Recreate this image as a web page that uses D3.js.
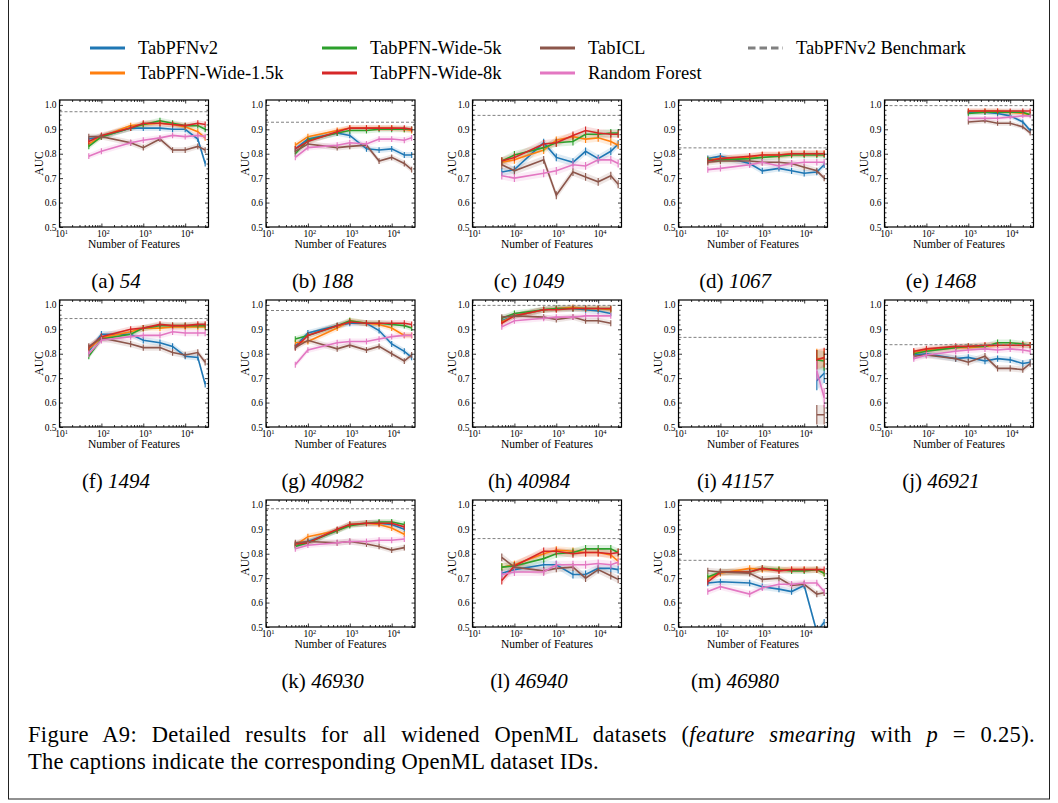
<!DOCTYPE html>
<html><head><meta charset="utf-8">
<script src="https://cdn.jsdelivr.net/npm/d3@7"></script>
<style>
body{margin:0;background:#fff}
svg{display:block}
svg text{font-family:"Liberation Serif","Times New Roman",serif !important;fill:#000}
</style>
</head><body>
<svg id="c" width="1058" height="803"></svg>
<script>
// ---------------- DATA ----------------
const datasetIds = ["54","188","1049","1067","1468","1494","40982","40984","41157","46921","46930","46940","46980"];
const panelLetters = ["a","b","c","d","e","f","g","h","i","j","k","l","m"];
const seriesNames = ["TabPFNv2","TabPFN-Wide-1.5k","TabPFN-Wide-5k","TabPFN-Wide-8k","TabICL","Random Forest"];
const benchmarkName = "TabPFNv2 Benchmark";
const xTickLabels = ["1","2","3","4"];
const yTickValues = [0.5,0.6,0.7,0.8,0.9,1.0];

const featureCounts = [
  [50,100,500,1000,2500,5000,10000,20000,30000],
  [50,100,500,1000,2500,5000,10000,20000,30000],
  [50,100,500,1000,2500,5000,10000,20000,30000],
  [50,100,500,1000,2500,5000,10000,20000,30000],
  [1000,2500,5000,10000,20000,30000],
  [50,100,500,1000,2500,5000,10000,20000,30000],
  [50,100,500,1000,2500,5000,10000,20000,30000],
  [50,100,500,1000,2500,5000,10000,20000],
  [20000,30000],
  [50,100,500,1000,2500,5000,10000,20000,30000],
  [50,100,500,1000,2500,5000,10000,20000],
  [50,100,500,1000,2500,5000,10000,20000,30000],
  [50,100,500,1000,2500,5000,10000,20000,30000]
];
const benchmark = [0.972,0.929,0.957,0.824,0.997,0.944,0.977,0.998,0.867,0.837,0.984,0.862,0.773];
const panelStd = [0.012,0.012,0.016,0.013,0.01,0.013,0.012,0.012,0.04,0.013,0.012,0.016,0.013];

const tabpfnv2 = [
  [0.86,0.87,0.905,0.905,0.905,0.90,0.90,0.86,0.76],
  [0.82,0.86,0.885,0.875,0.82,0.815,0.82,0.795,0.795],
  [0.725,0.735,0.845,0.785,0.765,0.81,0.78,0.81,0.84],
  [0.78,0.79,0.76,0.73,0.74,0.73,0.72,0.725,0.755],
  [0.97,0.97,0.965,0.955,0.93,0.895],
  [0.81,0.88,0.88,0.855,0.845,0.83,0.79,0.785,0.675],
  [0.83,0.885,0.915,0.925,0.925,0.895,0.84,0.81,0.785],
  [0.935,0.955,0.98,0.985,0.985,0.98,0.975,0.965],
  [0.69,0.72],
  [0.795,0.80,0.78,0.785,0.77,0.78,0.775,0.76,0.765],
  [0.835,0.85,0.895,0.92,0.925,0.925,0.92,0.90],
  [0.72,0.735,0.755,0.755,0.715,0.715,0.74,0.74,0.735],
  [0.68,0.685,0.68,0.665,0.655,0.645,0.67,0.48,0.52]
];
const wide15k = [
  [0.84,0.87,0.915,0.92,0.925,0.92,0.91,0.89,0.865],
  [0.835,0.87,0.895,0.905,0.905,0.905,0.905,0.90,0.895],
  [0.765,0.775,0.815,0.855,0.87,0.86,0.865,0.85,0.835],
  [0.775,0.78,0.785,0.795,0.795,0.80,0.80,0.80,0.80],
  [0.975,0.975,0.975,0.97,0.965,0.96],
  [0.82,0.865,0.89,0.905,0.905,0.91,0.91,0.91,0.91],
  [0.845,0.85,0.905,0.935,0.925,0.92,0.905,0.875,0.875],
  [0.93,0.955,0.98,0.985,0.99,0.985,0.985,0.98],
  [0.78,0.78],
  [0.805,0.815,0.825,0.825,0.83,0.835,0.835,0.835,0.835],
  [0.835,0.87,0.895,0.92,0.925,0.92,0.905,0.88],
  [0.745,0.755,0.80,0.815,0.81,0.805,0.805,0.795,0.77],
  [0.70,0.72,0.74,0.735,0.735,0.735,0.735,0.735,0.72]
];
const wide5k = [
  [0.83,0.87,0.905,0.92,0.935,0.925,0.915,0.915,0.90],
  [0.80,0.855,0.885,0.895,0.895,0.90,0.90,0.90,0.90],
  [0.77,0.795,0.825,0.845,0.85,0.88,0.88,0.885,0.885],
  [0.775,0.775,0.78,0.785,0.79,0.795,0.795,0.795,0.795],
  [0.965,0.97,0.97,0.97,0.97,0.96],
  [0.79,0.86,0.88,0.905,0.915,0.915,0.915,0.915,0.915],
  [0.86,0.875,0.915,0.935,0.925,0.925,0.92,0.915,0.905],
  [0.945,0.965,0.98,0.985,0.985,0.985,0.985,0.985],
  [0.775,0.77],
  [0.80,0.81,0.825,0.83,0.83,0.845,0.845,0.84,0.835],
  [0.83,0.845,0.895,0.915,0.925,0.93,0.93,0.92],
  [0.745,0.75,0.78,0.80,0.805,0.82,0.82,0.82,0.805],
  [0.705,0.725,0.725,0.74,0.735,0.73,0.73,0.735,0.72]
];
const wide8k = [
  [0.85,0.875,0.905,0.925,0.925,0.92,0.915,0.925,0.92],
  [0.82,0.85,0.89,0.905,0.905,0.905,0.905,0.905,0.90],
  [0.77,0.785,0.84,0.845,0.875,0.895,0.885,0.88,0.88],
  [0.77,0.78,0.79,0.795,0.795,0.80,0.80,0.80,0.80],
  [0.975,0.975,0.975,0.975,0.975,0.975],
  [0.825,0.87,0.90,0.905,0.92,0.915,0.915,0.92,0.92],
  [0.825,0.875,0.915,0.93,0.925,0.925,0.925,0.925,0.92],
  [0.925,0.955,0.98,0.98,0.985,0.985,0.985,0.985],
  [0.775,0.785],
  [0.81,0.82,0.83,0.83,0.835,0.835,0.835,0.835,0.835],
  [0.84,0.845,0.90,0.92,0.925,0.925,0.925,0.91],
  [0.69,0.75,0.81,0.81,0.80,0.805,0.805,0.80,0.805],
  [0.685,0.725,0.725,0.74,0.73,0.735,0.735,0.735,0.735]
];
const tabicl = [
  [0.87,0.87,0.845,0.825,0.86,0.815,0.815,0.83,0.815],
  [0.81,0.84,0.825,0.83,0.835,0.77,0.785,0.76,0.735],
  [0.755,0.73,0.775,0.63,0.725,0.705,0.685,0.71,0.675],
  [0.765,0.77,0.77,0.765,0.765,0.76,0.745,0.73,0.70],
  [0.93,0.935,0.925,0.925,0.91,0.885],
  [0.83,0.865,0.84,0.825,0.825,0.805,0.795,0.805,0.765],
  [0.825,0.855,0.82,0.835,0.815,0.83,0.80,0.77,0.795],
  [0.95,0.955,0.95,0.94,0.95,0.935,0.935,0.925],
  [0.55,0.55],
  [0.79,0.795,0.78,0.765,0.79,0.74,0.74,0.735,0.76],
  [0.845,0.85,0.845,0.85,0.84,0.83,0.815,0.825],
  [0.785,0.745,0.73,0.74,0.745,0.70,0.735,0.71,0.695],
  [0.73,0.725,0.72,0.695,0.70,0.67,0.675,0.635,0.64]
];
const randomForest = [
  [0.79,0.81,0.845,0.855,0.865,0.875,0.87,0.875,0.87],
  [0.785,0.825,0.835,0.845,0.84,0.86,0.86,0.855,0.865],
  [0.71,0.70,0.72,0.73,0.755,0.75,0.775,0.775,0.76],
  [0.735,0.74,0.755,0.765,0.75,0.76,0.765,0.765,0.765],
  [0.945,0.945,0.945,0.95,0.955,0.955],
  [0.80,0.855,0.87,0.875,0.875,0.89,0.885,0.885,0.885],
  [0.755,0.815,0.845,0.85,0.85,0.86,0.87,0.875,0.875],
  [0.91,0.935,0.945,0.95,0.95,0.955,0.955,0.955],
  [0.73,0.62],
  [0.78,0.795,0.81,0.815,0.82,0.815,0.82,0.815,0.81],
  [0.82,0.835,0.845,0.85,0.85,0.855,0.855,0.86],
  [0.715,0.725,0.725,0.755,0.755,0.755,0.76,0.755,0.765],
  [0.645,0.665,0.635,0.66,0.675,0.675,0.68,0.68,0.645]
];
const seriesValues = [tabpfnv2, wide15k, wide5k, wide8k, tabicl, randomForest];

// ---------------- STYLE / LAYOUT ----------------
const FONT = "'Liberation Serif','Times New Roman',serif";
const seriesColors = ["#1f77b4","#ff7f0e","#2ca02c","#d62728","#8c564b","#e377c2"];
const svg = d3.select("#c");
const colLeft = [59.5, 266, 472.5, 678.5, 884.5];
const rowTop = [100, 300, 500];
const W = 149, H = 127;
const panelCell = [[0,0],[0,1],[0,2],[0,3],[0,4],[1,0],[1,1],[1,2],[1,3],[1,4],[2,1],[2,2],[2,3]];

// frame
svg.append("rect").attr("x",8.5).attr("y",-1).attr("width",1041).attr("height",800)
  .attr("fill","none").attr("stroke","#222").attr("stroke-width",1);

const x = d3.scaleLog().domain([10, 36000]).range([0, W]);
const y = d3.scaleLinear().domain([0.5, 1.02]).range([H, 0]);
const xMinor = [];
[10,100,1000,10000].forEach(b => { for (let k=2;k<=9;k++){ if (b*k<=36000) xMinor.push(b*k);} });
const yMinor = d3.range(26).map(i => 0.5 + i*0.02).filter(v => Math.abs(v*10 - Math.round(v*10)) > 1e-6);

panelCell.forEach(([r,c], i) => {
  const g = svg.append("g").attr("transform", `translate(${colLeft[c]},${rowTop[r]})`);
  const cid = "clip"+i;
  g.append("clipPath").attr("id",cid).append("rect").attr("width",W).attr("height",H);
  const plot = g.append("g").attr("clip-path",`url(#${cid})`);
  const xs = featureCounts[i];
  const e = panelStd[i];

  seriesValues.forEach((vals, s) => {
    const pts = xs.map((f,k) => ({f, v: vals[i][k]}));
    plot.append("path").datum(pts)
      .attr("d", d3.area().x(d=>x(d.f)).y0(d=>y(d.v-e)).y1(d=>y(d.v+e)))
      .attr("fill", seriesColors[s]).attr("fill-opacity", 0.15).attr("stroke","none");
  });
  seriesValues.forEach((vals, s) => {
    const pts = xs.map((f,k) => ({f, v: vals[i][k]}));
    const col = seriesColors[s];
    plot.append("path").datum(pts)
      .attr("d", d3.line().x(d=>x(d.f)).y(d=>y(d.v)))
      .attr("fill","none").attr("stroke", col).attr("stroke-width",1.6);
    plot.selectAll(null).data(pts).enter().append("line")
      .attr("x1",d=>x(d.f)).attr("x2",d=>x(d.f))
      .attr("y1",d=>y(d.v-e)).attr("y2",d=>y(d.v+e))
      .attr("stroke", col).attr("stroke-width",1.1);
  });
  plot.append("line").attr("x1",0).attr("x2",W)
    .attr("y1",y(benchmark[i])).attr("y2",y(benchmark[i]))
    .attr("stroke","#808080").attr("stroke-width",1).attr("stroke-dasharray","3,2");

  // axes (inward ticks on all sides)
  const ax = g.append("g").attr("transform",`translate(0,${H})`)
    .call(d3.axisBottom(x).tickValues([10,100,1000,10000]).tickSizeInner(-3.5).tickSizeOuter(0).tickPadding(3).tickFormat(""));
  ax.selectAll(".tick text").attr("dx", 1.5).each(function(d,k){
    const t = d3.select(this);
    t.append("tspan").text("10");
    t.append("tspan").attr("dy","-0.45em").style("font-size","6.5px").text(xTickLabels[k]);
  });
  g.append("g").attr("transform",`translate(0,${H})`)
    .call(d3.axisBottom(x).tickValues(xMinor).tickSizeInner(-2).tickSizeOuter(0).tickFormat(""));
  g.append("g").call(d3.axisTop(x).tickValues([10,100,1000,10000]).tickSizeInner(-3.5).tickSizeOuter(0).tickFormat(""));
  g.append("g").call(d3.axisTop(x).tickValues(xMinor).tickSizeInner(-2).tickSizeOuter(0).tickFormat(""));
  g.append("g").call(d3.axisLeft(y).tickValues(yTickValues).tickSizeInner(-3.5).tickSizeOuter(0).tickPadding(3).tickFormat(d3.format(".1f")));
  g.append("g").call(d3.axisLeft(y).tickValues(yMinor).tickSizeInner(-2).tickSizeOuter(0).tickFormat(""));
  g.append("g").attr("transform",`translate(${W},0)`).call(d3.axisRight(y).tickValues(yTickValues).tickSizeInner(-3.5).tickSizeOuter(0).tickFormat(""));
  g.append("g").attr("transform",`translate(${W},0)`).call(d3.axisRight(y).tickValues(yMinor).tickSizeInner(-2).tickSizeOuter(0).tickFormat(""));
  g.selectAll(".domain").remove();
  g.selectAll("g").attr("font-family", null);
  g.selectAll(".tick line").attr("stroke","#000").attr("stroke-width",0.8);
  g.selectAll(".tick text").style("font-family",FONT).style("font-size","9.5px").attr("fill","#000");
  g.append("rect").attr("width",W).attr("height",H).attr("fill","none").attr("stroke","#000").attr("stroke-width",1.2);

  g.append("text").attr("x",W/2).attr("y",H+21).attr("text-anchor","middle")
    .style("font-family",FONT).style("font-size","11.5px").text("Number of Features");
  g.append("text").attr("transform",`translate(-21,${H/2}) rotate(-90)`).attr("text-anchor","middle").attr("dy","0.35em")
    .style("font-family",FONT).style("font-size","11.5px").text("AUC");

  const cap = g.append("text").attr("x",W/2-18).attr("y",H+61).attr("text-anchor","middle")
    .style("font-family",FONT).style("font-size","21px");
  cap.append("tspan").text(`(${panelLetters[i]}) `);
  cap.append("tspan").attr("font-style","italic").text(datasetIds[i]);
});

// legend
const legendItems = [
  {name:seriesNames[0], color:seriesColors[0], col:0, row:0},
  {name:seriesNames[1], color:seriesColors[1], col:0, row:1},
  {name:seriesNames[2], color:seriesColors[2], col:1, row:0},
  {name:seriesNames[3], color:seriesColors[3], col:1, row:1},
  {name:seriesNames[4], color:seriesColors[4], col:2, row:0},
  {name:seriesNames[5], color:seriesColors[5], col:2, row:1},
  {name:benchmarkName, color:"#808080", col:3, row:0, dashed:true}
];
const legX = [90, 322, 540, 748];
const legY = [48, 73];
const lg = svg.append("g");
legendItems.forEach(it => {
  const lx = legX[it.col], ly = legY[it.row];
  lg.append("line").attr("x1",lx).attr("x2",lx+35).attr("y1",ly).attr("y2",ly)
    .attr("stroke",it.color).attr("stroke-width",3)
    .attr("stroke-dasharray", it.dashed ? "7.5,4" : null);
  lg.append("text").attr("x",lx+48).attr("y",ly).attr("dy","0.33em")
    .style("font-family",FONT).style("font-size","18.5px").text(it.name);
});

// figure caption (first line justified to the text width)
const c1 = svg.append("text").attr("x",28).attr("y",742).style("font-family",FONT)
  .style("font-size","22.5px").style("letter-spacing","0.35px");
c1.append("tspan").text("Figure A9: Detailed results for all widened OpenML datasets (");
c1.append("tspan").attr("font-style","italic").text("feature smearing");
c1.append("tspan").text(" with ");
c1.append("tspan").attr("font-style","italic").text("p");
c1.append("tspan").text(" = 0.25).");
const natural = c1.node().getComputedTextLength();
const nSpaces = c1.text().split(" ").length - 1;
c1.style("word-spacing", Math.max(0, (1007 - natural) / nSpaces).toFixed(2) + "px");
svg.append("text").attr("x",28).attr("y",769).style("font-family",FONT)
  .style("font-size","22.5px").style("letter-spacing","0.2px")
  .text("The captions indicate the corresponding OpenML dataset IDs.");
</script>
</body></html>
